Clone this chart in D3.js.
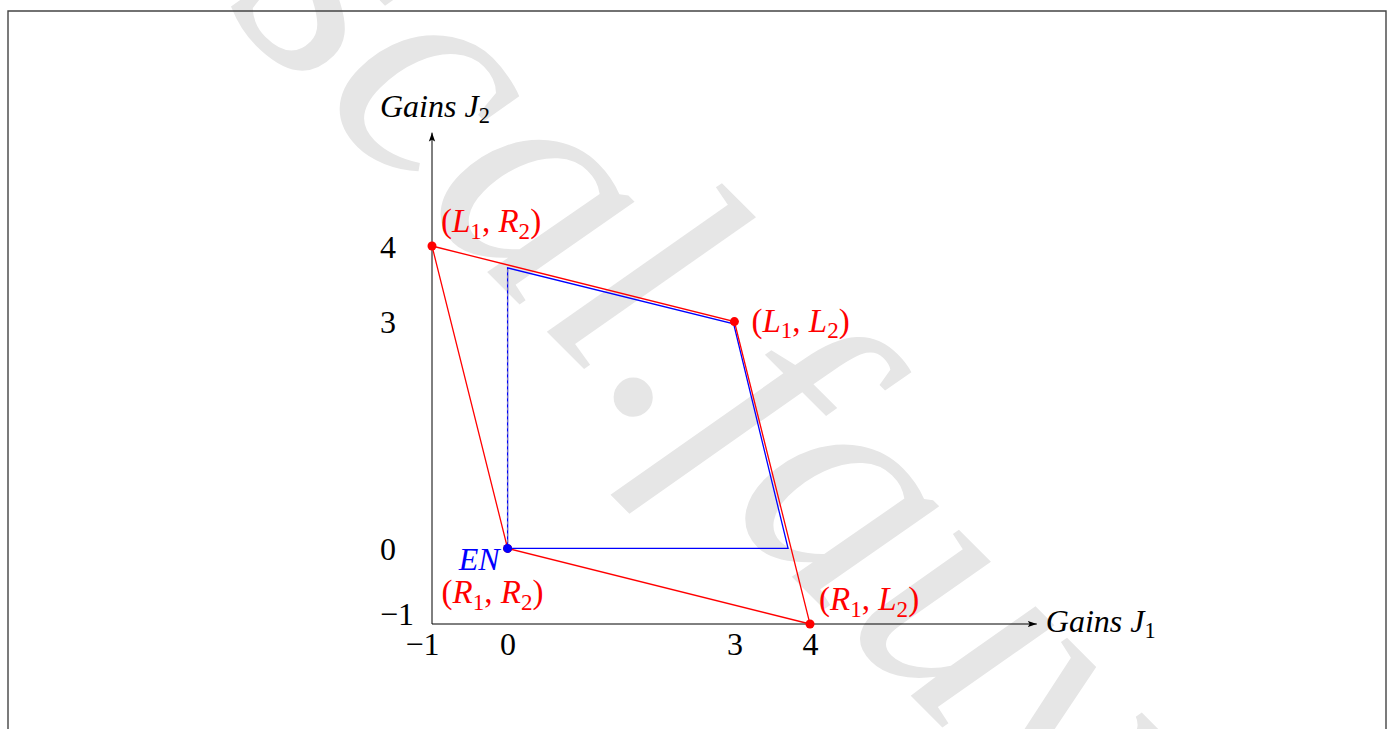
<!DOCTYPE html>
<html>
<head>
<meta charset="utf-8">
<script src="https://cdn.jsdelivr.net/npm/d3@7"></script>
<style>
  html, body { margin: 0; padding: 0; background: #fff; }
  svg { display: block; }
  text { white-space: pre; }
</style>
</head>
<body>
<svg id="chart" width="1394" height="729"></svg>
<script>
// Outcomes of the game: gains of player J1 and player J2 for each strategy pair
const outcomeLabels = ["(L_1, R_2)", "(L_1, L_2)", "(R_1, L_2)", "(R_1, R_2)"];
const gainsJ1 = [-1, 3, 4, 0];
const gainsJ2 = [4, 3, -1, 0];

// Region of outcomes that improve on the Nash equilibrium for both players
const regionJ1 = [0, 0, 2.99, 3.71];
const regionJ2 = [0, 3.71, 2.97, 0];

// Nash equilibrium
const equilibriumLabel = "EN";
const equilibriumJ1 = [0];
const equilibriumJ2 = [0];

// Axes
const xTicks = [-1, 0, 3, 4];
const yTicks = [-1, 0, 3, 4];
const xDomain = [-1, 4];
const yDomain = [-1, 4];
const xAxisEnd = 7;
const yAxisEnd = 5.5;
const xAxisTitle = "Gains J_1";
const yAxisTitle = "Gains J_2";
const watermarkText = "pascal.fauvel";

const W = 1394, H = 729;
const FONT = "'Liberation Serif', 'DejaVu Serif', serif";
const FS = 32;
const LABEL_FS = 33;
const RED = "#ff0000", BLUE = "#0000ff";

const svg = d3.select("#chart");

const x = d3.scaleLinear().domain(xDomain).range([432, 810]);
const y = d3.scaleLinear().domain(yDomain).range([624, 246]);

// Writes a math-like label: letters in italic, digits/punctuation upright,
// "_d" makes a subscript.
function mathText(textSel, str, size, italicAll) {
  const tokens = [];
  for (let i = 0; i < str.length; i++) {
    const c = str[i];
    if (c === "_") { tokens.push({ t: str[i + 1], sub: true }); i++; continue; }
    const it = italicAll ? c !== " " && !/[0-9]/.test(c) : /[A-Za-z]/.test(c);
    tokens.push({ t: c, sub: false, it });
  }
  let inSub = false;
  tokens.forEach(tok => {
    const ts = textSel.append("tspan").text(tok.t);
    if (tok.sub) {
      ts.attr("font-size", size * 0.7).attr("font-style", "normal").attr("dy", size * 0.2);
      inSub = true;
    } else {
      ts.attr("font-size", size).attr("font-style", tok.it ? "italic" : "normal");
      if (inSub) { ts.attr("dy", -size * 0.2); inSub = false; }
    }
  });
}

// Light watermark across the page
svg.append("text")
  .attr("transform", "translate(-10,-225) rotate(45)")
  .attr("font-family", FONT)
  .attr("font-style", "italic")
  .attr("font-size", 330)
  .attr("fill", "#e6e6e6")
  .text(watermarkText);

// Page frame
svg.append("path")
  .attr("d", `M8,${H} V11 H1386 V${H}`)
  .attr("fill", "none")
  .attr("stroke", "#444")
  .attr("stroke-width", 1.4);

// Arrow marker for the axes
const defs = svg.append("defs");
defs.append("marker")
  .attr("id", "arrow")
  .attr("viewBox", "0 0 10 10")
  .attr("refX", 10).attr("refY", 5)
  .attr("markerWidth", 9).attr("markerHeight", 9)
  .attr("markerUnits", "userSpaceOnUse")
  .attr("orient", "auto")
  .append("path")
  .attr("d", "M0,1.5 L10,5 L0,8.5 L2,5 Z")
  .attr("fill", "#000");

// Axis lines
svg.append("line")
  .attr("x1", x(xDomain[0])).attr("y1", y(yDomain[0]))
  .attr("x2", x(xAxisEnd)).attr("y2", y(yDomain[0]))
  .attr("stroke", "#000").attr("stroke-width", 1)
  .attr("marker-end", "url(#arrow)");
svg.append("line")
  .attr("x1", x(xDomain[0])).attr("y1", y(yDomain[0]))
  .attr("x2", x(xDomain[0])).attr("y2", y(yAxisEnd))
  .attr("stroke", "#000").attr("stroke-width", 1)
  .attr("marker-end", "url(#arrow)");

// Tick labels via d3 axes (no tick marks, no domain path)
const fmt = d3.format("");
const gx = svg.append("g")
  .attr("transform", `translate(0,${y(yDomain[0])})`)
  .call(d3.axisBottom(x).tickValues(xTicks).tickSize(0).tickFormat(fmt));
gx.select(".domain").remove();
gx.selectAll("text")
  .attr("y", 31).attr("dy", null)
  .attr("dx", d => d === xDomain[0] ? -10 : 0)
  .attr("font-family", FONT).attr("font-size", FS).attr("fill", "#000");

const gy = svg.append("g")
  .attr("transform", `translate(${x(xDomain[0])},0)`)
  .call(d3.axisLeft(y).tickValues(yTicks).tickSize(0).tickFormat(fmt));
gy.select(".domain").remove();
gy.selectAll("text")
  .attr("x", -52).attr("dy", null)
  .attr("y", d => (d === yDomain[0] ? 0 : 11))
  .attr("text-anchor", "start")
  .attr("font-family", FONT).attr("font-size", FS).attr("fill", "#000");

// Axis titles
mathText(svg.append("text")
  .attr("x", x(xAxisEnd) + 9).attr("y", y(yDomain[0]) + 8)
  .attr("font-family", FONT).attr("fill", "#000"), xAxisTitle, FS, true);
mathText(svg.append("text")
  .attr("x", x(xDomain[0]) - 52).attr("y", y(yAxisEnd) - 16)
  .attr("font-family", FONT).attr("fill", "#000"), yAxisTitle, FS, true);

const line = d3.line().x(d => x(d[0])).y(d => y(d[1]));

// Blue improvement region
const region = regionJ1.map((v, i) => [v, regionJ2[i]]);
svg.append("path")
  .attr("d", line(region) + "Z")
  .attr("fill", "none")
  .attr("stroke", BLUE)
  .attr("stroke-width", 1.3);
// Dashed overlay on the vertical edge
svg.append("path")
  .attr("d", line(region.slice(0, 2)))
  .attr("fill", "none")
  .attr("stroke", "#8a8aa8")
  .attr("stroke-width", 1)
  .attr("stroke-dasharray", "3,3");

// Red convex hull of the outcomes
const outcomes = gainsJ1.map((v, i) => [v, gainsJ2[i]]);
svg.append("path")
  .attr("d", line(outcomes) + "Z")
  .attr("fill", "none")
  .attr("stroke", RED)
  .attr("stroke-width", 1.3);

// Outcome points and their labels
svg.selectAll("circle.outcome")
  .data(outcomes)
  .join("circle")
  .attr("class", "outcome")
  .attr("cx", d => x(d[0])).attr("cy", d => y(d[1]))
  .attr("r", 4.5)
  .attr("fill", RED);

const labelOffsets = {
  "(L_1, R_2)": [9, -14],
  "(L_1, L_2)": [17, 10],
  "(R_1, L_2)": [9, -14],
  "(R_1, R_2)": [-66, 55]
};
outcomes.forEach((d, i) => {
  const off = labelOffsets[outcomeLabels[i]];
  mathText(svg.append("text")
    .attr("x", x(d[0]) + off[0]).attr("y", y(d[1]) + off[1])
    .attr("font-family", FONT).attr("fill", RED), outcomeLabels[i], LABEL_FS, false);
});

// Nash equilibrium point
const eq = equilibriumJ1.map((v, i) => [v, equilibriumJ2[i]]);
svg.selectAll("circle.eq")
  .data(eq)
  .join("circle")
  .attr("class", "eq")
  .attr("cx", d => x(d[0])).attr("cy", d => y(d[1]))
  .attr("r", 4.5)
  .attr("fill", BLUE);
eq.forEach(d => {
  mathText(svg.append("text")
    .attr("x", x(d[0]) - 8).attr("y", y(d[1]) + 22)
    .attr("text-anchor", "end")
    .attr("font-family", FONT).attr("fill", BLUE), equilibriumLabel, FS, true);
});
</script>
</body>
</html>
